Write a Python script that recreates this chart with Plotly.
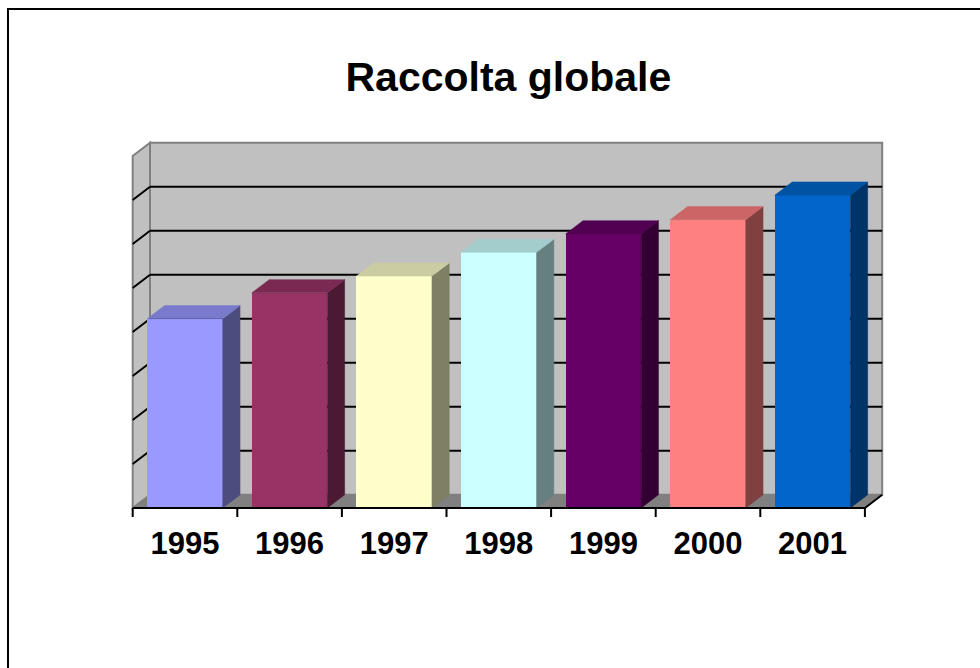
import plotly.graph_objects as go

# ---- data ----
years = ["1995", "1996", "1997", "1998", "1999", "2000", "2001"]
values = [4.30, 4.89, 5.27, 5.81, 6.23, 6.55, 7.11]
front_colors = ["#9999FF", "#993366", "#FFFFCC", "#CCFFFF", "#660066", "#FF8080", "#0066CC"]
side_colors = ["#4C4C7F", "#4C1933", "#7F7F66", "#667F7F", "#330033", "#7F4040", "#003366"]
top_colors = ["#7A7ACC", "#7A2952", "#CCCCA3", "#A3CCCC", "#520052", "#CC6666", "#0052A3"]
y_max = 8
title_text = "Raccolta globale"

# ---- geometry (pixel scale) ----
W, H = 980, 668
PX_X = 104.6      # px per category
PX_Y = 44.0       # px per value unit
X0_PX = 132.7     # pixel of x=-0.5
Y0_PX = 508.0     # pixel of y=0
L, R, T, B = 128, 92, 138, 150
plot_w = W - L - R
plot_h = H - T - B
xmin = -0.5 - (X0_PX - L) / PX_X
xmax = xmin + plot_w / PX_X
ymin = -((H - B) - Y0_PX) / PX_Y
ymax = ymin + plot_h / PX_Y

DX = 17.3 / PX_X
DY = 13.2 / PX_Y
BW = 75.5 / PX_X
n = len(years)
xl, xr = -0.5, n - 0.5

fig = go.Figure()

shapes = []
# back wall
shapes.append(dict(type="rect", xref="x", yref="y", x0=xl + DX, x1=xr + DX, y0=DY, y1=y_max + DY,
                   fillcolor="#C0C0C0", line=dict(color="#808080", width=2), layer="below"))
# left wall
shapes.append(dict(type="path", xref="x", yref="y",
                   path=f"M {xl},{0} L {xl+DX},{DY} L {xl+DX},{y_max+DY} L {xl},{y_max} Z",
                   fillcolor="#C0C0C0", line=dict(color="#808080", width=2), layer="below"))
# gridlines
for k in range(1, y_max):
    shapes.append(dict(type="line", xref="x", yref="y", x0=xl + DX, x1=xr + DX, y0=k + DY, y1=k + DY,
                       line=dict(color="black", width=2), layer="below"))
    shapes.append(dict(type="line", xref="x", yref="y", x0=xl, x1=xl + DX, y0=k, y1=k + DY,
                       line=dict(color="black", width=2), layer="below"))
# floor
shapes.append(dict(type="path", xref="x", yref="y",
                   path=f"M {xl},0 L {xr},0 L {xr+DX},{DY} L {xl+DX},{DY} Z",
                   fillcolor="#808080", line=dict(color="#808080", width=1), layer="below"))
# outer border
def px2paper_x(px):
    return (px - L) / plot_w
def px2paper_y(py):
    return ((H - B) - py) / plot_h
shapes.append(dict(type="rect", xref="paper", yref="paper",
                   x0=px2paper_x(8), x1=px2paper_x(W + 20), y0=px2paper_y(9), y1=px2paper_y(H + 20),
                   line=dict(color="black", width=2), fillcolor="rgba(0,0,0,0)", layer="above"))

# front faces of bars
xs = list(range(n))
fig.add_trace(go.Bar(x=xs, y=values, width=BW, marker=dict(color=front_colors, line=dict(width=0)),
                     hoverinfo="skip", showlegend=False))

# side and top faces
for i, v in enumerate(values):
    a, b = i - BW / 2, i + BW / 2
    fig.add_trace(go.Scatter(x=[b, b + DX, b + DX, b, b], y=[0, DY, v + DY, v, 0],
                             fill="toself", fillcolor=side_colors[i], mode="lines",
                             line=dict(color=side_colors[i], width=0.5), hoverinfo="skip", showlegend=False))
    fig.add_trace(go.Scatter(x=[a, b, b + DX, a + DX, a], y=[v, v, v + DY, v + DY, v],
                             fill="toself", fillcolor=top_colors[i], mode="lines",
                             line=dict(color=top_colors[i], width=0.5), hoverinfo="skip", showlegend=False))

# floor front edge + right edge
fig.add_trace(go.Scatter(x=[xl, xr, xr + DX], y=[0, 0, DY], mode="lines",
                         line=dict(color="black", width=2), hoverinfo="skip", showlegend=False))
# category tick marks
tx, ty = [], []
tlen = 9 / PX_Y
for k in range(n + 1):
    tx += [k - 0.5, k - 0.5, None]
    ty += [0, -tlen, None]
fig.add_trace(go.Scatter(x=tx, y=ty, mode="lines", line=dict(color="black", width=2),
                         hoverinfo="skip", showlegend=False))

fig.update_layout(
    width=W, height=H,
    margin=dict(l=L, r=R, t=T, b=B, pad=0),
    paper_bgcolor="white", plot_bgcolor="white",
    shapes=shapes,
    title=dict(text=title_text, x=508.4 / W, xanchor="center", y=1 - 77 / H, yanchor="middle",
               xref="container", yref="container",
               font=dict(family="Liberation Sans, Arial", size=41, color="black", weight="bold")),
    xaxis=dict(range=[xmin, xmax], tickmode="array", tickvals=xs, ticktext=years, ticks="",
               showgrid=False, zeroline=False, showline=False, ticklabelstandoff=4,
               tickfont=dict(family="Liberation Sans, Arial", size=31, color="black", weight="bold"),
               fixedrange=True),
    yaxis=dict(range=[ymin, ymax], visible=False, fixedrange=True),
    bargap=0,
)

fig.write_html("out.html")
